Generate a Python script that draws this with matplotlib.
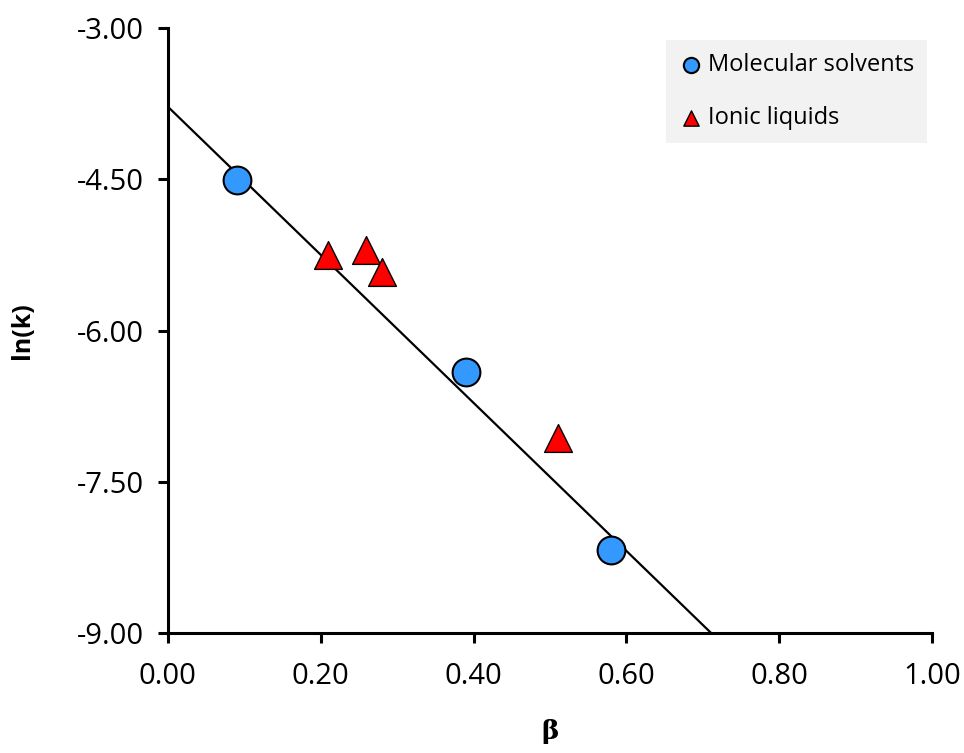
import numpy as np
import matplotlib.pyplot as plt

# data
beta_mol = [0.09, 0.39, 0.58]
lnk_mol = [-4.51, -6.41, -8.17]
beta_il = [0.21, 0.26, 0.28, 0.51]
lnk_il = [-5.25, -5.20, -5.42, -7.06]

# fitted line
slope = -7.34
intercept = -3.78

plt.rcParams['font.family'] = ['Open Sans', 'DejaVu Sans']

fig = plt.figure(figsize=(9.64, 7.53), dpi=100)
ax = fig.add_axes([0.174, 0.159, 0.793, 0.804])

xs = np.array([0.0, 1.0])
ax.plot(xs, intercept + slope * xs, color='black', lw=1.6, zorder=2)

ax.scatter(beta_mol, lnk_mol, s=400, marker='o', color='#3399ff',
           edgecolor='black', linewidth=1.5, zorder=3, label='Molecular solvents')
ax.scatter(beta_il, lnk_il, s=400, marker='^', color='#ff0000',
           edgecolor='black', linewidth=1.0, zorder=3, label='Ionic liquids')

ax.set_xlim(0, 1.0)
ax.set_ylim(-9.0, -3.0)
ax.set_xticks(np.arange(0, 1.01, 0.2))
ax.set_yticks(np.arange(-9.0, -2.99, 1.5))
ax.xaxis.set_major_formatter(plt.FormatStrFormatter('%.2f'))
ax.yaxis.set_major_formatter(plt.FormatStrFormatter('%.2f'))

for side in ['top', 'right']:
    ax.spines[side].set_visible(False)
for side in ['left', 'bottom']:
    ax.spines[side].set_linewidth(2.2)
ax.tick_params(direction='out', length=7, width=2.2, labelsize=21)
ax.xaxis.set_tick_params(pad=14)
ax.yaxis.set_tick_params(pad=10)

ax.set_xlabel('β', fontsize=19, fontweight='bold', family='DejaVu Serif', labelpad=20)
ax.set_ylabel('ln(k)', fontsize=18, fontweight='bold', labelpad=30)

leg = ax.legend(loc='upper right', bbox_to_anchor=(0.993, 0.98), borderaxespad=0,
                frameon=True, fancybox=False, markerscale=0.55, handletextpad=0.2,
                labelspacing=1.25, borderpad=0.55, handlelength=1.0,
                prop={'size': 17})
leg.get_frame().set_facecolor('#f2f2f2')
leg.get_frame().set_edgecolor('none')
leg.get_frame().set_alpha(1)

fig.savefig('out.png', dpi=100)
